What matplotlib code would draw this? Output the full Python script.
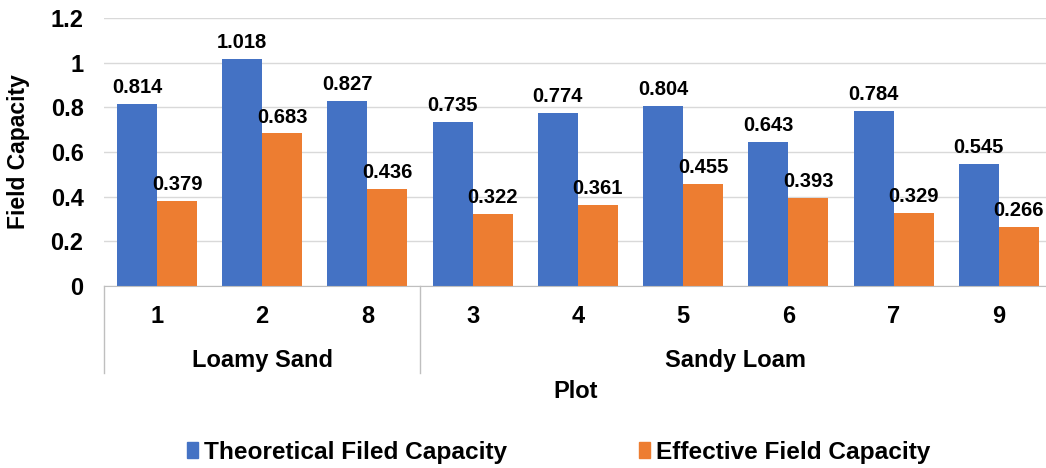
import matplotlib.pyplot as plt
import matplotlib.transforms as mtransforms
from matplotlib.patches import Patch

plt.rcParams['font.family'] = ['Liberation Sans', 'DejaVu Sans']
plt.rcParams['font.weight'] = 'bold'

plots = ['1', '2', '8', '3', '4', '5', '6', '7', '9']
theoretical = [0.814, 1.018, 0.827, 0.735, 0.774, 0.804, 0.643, 0.784, 0.545]
effective = [0.379, 0.683, 0.436, 0.322, 0.361, 0.455, 0.393, 0.329, 0.266]
groups = ['Loamy Sand', 'Sandy Loam']
group_sizes = [3, 6]

blue = '#4472C4'
orange = '#ED7D31'
fs_lab = 14.5   # data labels
fs = 17         # axis text

fig = plt.figure(figsize=(10.46, 4.68), dpi=100)
# axes run slightly past the right edge, as in the original
ax = fig.add_axes([104.4 / 1046, 1 - 286 / 468, 947 / 1046, 268 / 468])

x = list(range(len(plots)))
w = 0.38
b1 = ax.bar([i - w / 2 for i in x], theoretical, w, color=blue, zorder=3)
b2 = ax.bar([i + w / 2 for i in x], effective, w, color=orange, zorder=3)
for bars, vals in ((b1, theoretical), (b2, effective)):
    for r, v in zip(bars, vals):
        ax.annotate('{:.3f}'.format(v), (r.get_x() + r.get_width() / 2, v),
                    xytext=(0, 5), textcoords='offset points', ha='center',
                    va='bottom', fontsize=fs_lab, fontweight='bold', annotation_clip=False)

ax.set_xlim(-0.5, len(plots) - 0.5)
ax.set_ylim(0, 1.2)
ax.set_yticks([0, 0.2, 0.4, 0.6, 0.8, 1.0, 1.2])
ax.set_yticklabels(['0', '0.2', '0.4', '0.6', '0.8', '1', '1.2'])
ax.set_xticks(x)
ax.set_xticklabels(plots)
ax.tick_params(axis='y', length=0, pad=15, labelsize=fs)
ax.tick_params(axis='x', length=0, pad=14, labelsize=fs)
ax.grid(axis='y', color='#D9D9D9', linewidth=1, zorder=0)
for s in ('top', 'right', 'left'):
    ax.spines[s].set_visible(False)
ax.spines['bottom'].set_color('#BFBFBF')
ax.spines['bottom'].set_zorder(4)

# group boxes under the axis
trans = mtransforms.blended_transform_factory(ax.transData, ax.transAxes)
depth = -(373 - 286) / 268
start = -0.5
edges = [start]
for g, n in zip(groups, group_sizes):
    end = start + n
    ax.text((start + end) / 2, -(360 - 286) / 268, g, transform=trans,
            ha='center', va='center', fontsize=fs, fontweight='bold')
    edges.append(end)
    start = end
for e in edges:
    ax.plot([e, e], [0, depth], transform=trans, color='#BFBFBF', lw=1, clip_on=False)

ax.text(0.5 * 943 / 947, -(391 - 286) / 268, 'Plot', transform=ax.transAxes, ha='center',
        va='center', fontsize=fs, fontweight='bold')
ax.set_ylabel('Field Capacity', fontsize=16.5, fontweight='bold')
ax.yaxis.set_label_coords(-(104 - 30) / 947, 0.5)

handles = [Patch(color=blue), Patch(color=orange)]
fig.legend(handles, ['Theoretical Filed Capacity', 'Effective Field Capacity'],
           loc='center', bbox_to_anchor=(0.534, 1 - 452 / 468), ncol=2, frameon=False,
           fontsize=17.6, handlelength=0.45, handleheight=0.6, handletextpad=0.25,
           columnspacing=5.4)

fig.savefig('out.png', dpi=100)
